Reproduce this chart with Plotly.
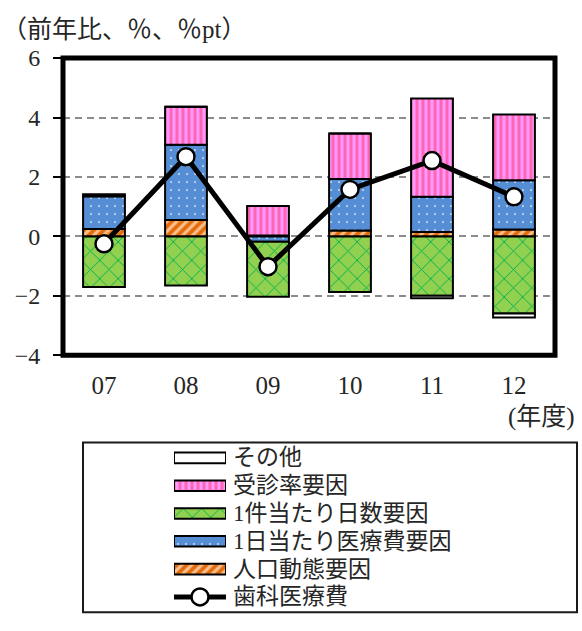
import plotly.graph_objects as go

# 年度
years = ["07", "08", "09", "10", "11", "12"]

# 寄与度（%pt）
pop_factor = [0.25, 0.55, 0.03, 0.20, 0.15, 0.23]        # 人口動態要因
cost_per_day = [1.10, 2.53, -0.18, 1.73, 1.18, 1.66]    # 1日当たり医療費要因
days_per_case = [-1.70, -1.65, -1.85, -1.87, -2.00, -2.59]  # 1件当たり日数要因
visit_rate = [0.00, 1.28, 0.99, 1.53, 3.31, 2.21]       # 受診率要因
other = [0.07, 0.00, 0.00, 0.00, -0.08, -0.14]          # その他

# 歯科医療費（前年比、%）
dental_total = [-0.25, 2.68, -1.02, 1.58, 2.55, 1.33]

legend_labels = ["その他", "受診率要因", "1件当たり日数要因",
                 "1日当たり医療費要因", "人口動態要因", "歯科医療費"]

W, H = 582, 631


def px(x):
    return x / W


def py(y):
    return 1 - y / H


SERIF = "Liberation Serif, Noto Sans CJK JP"
CJK = "Liberation Serif, Noto Sans CJK JP"
TXT = "#262626"

styles = {
    "pop": dict(bg="#E46C0A", fg="#FAC090", shape="/", size=7, solidity=0.45),
    "cost": dict(bg="#558ED5", fg="#C6D9F1", shape=".", size=8, solidity=0.06),
    "days": dict(bg="#92D050", fg="#00B050", shape="x", size=13, solidity=0.14),
    "visit": dict(bg="#FF66B2", fg="#FF99FF", shape="|", size=6, solidity=0.5),
    "other": dict(bg="#FFFFFF", fg="#FFFFFF", shape="", size=8, solidity=0.3),
}


def marker_for(key):
    s = styles[key]
    m = dict(color=s["bg"], line=dict(color="black", width=2))
    if s["shape"]:
        m["pattern"] = dict(shape=s["shape"], bgcolor=s["bg"], fgcolor=s["fg"],
                            size=s["size"], solidity=s["solidity"],
                            fillmode="replace")
    return m


fig = go.Figure()

series = [("pop", pop_factor), ("cost", cost_per_day), ("days", days_per_case),
          ("visit", visit_rate), ("other", other)]
for key, vals in series:
    fig.add_trace(go.Bar(x=years, y=vals, marker=marker_for(key),
                         showlegend=False, xaxis="x", yaxis="y"))

fig.add_trace(go.Scatter(
    x=years, y=dental_total, mode="lines+markers",
    line=dict(color="black", width=5),
    marker=dict(symbol="circle", size=17, color="white",
                line=dict(color="black", width=2.5)),
    showlegend=False, xaxis="x", yaxis="y"))

# 凡例（別軸に描画）
legend_rows = [("other", 0), ("visit", 1), ("days", 2), ("cost", 3), ("pop", 4)]
for key, row in legend_rows:
    fig.add_trace(go.Bar(x=[1], y=[row], base=[0], orientation="h", width=[0.38],
                         marker=marker_for(key), showlegend=False,
                         xaxis="x2", yaxis="y2", hoverinfo="skip"))
fig.add_trace(go.Scatter(x=[0, 1], y=[5, 5], mode="lines",
                         line=dict(color="black", width=5), showlegend=False,
                         xaxis="x2", yaxis="y2", hoverinfo="skip"))
fig.add_trace(go.Scatter(x=[0.5], y=[5], mode="markers",
                         marker=dict(symbol="circle", size=17, color="white",
                                     line=dict(color="black", width=2.5)),
                         showlegend=False, xaxis="x2", yaxis="y2",
                         hoverinfo="skip"))

x_dom = [px(63), px(555)]
y_dom = [py(357), py(47)]
zero_pos = y_dom[0] + (0 - (-4)) / 10 * (y_dom[1] - y_dom[0])

annotations = [
    dict(text="（前年比、％、％pt）", x=px(0), y=py(17), xref="paper", yref="paper",
         xanchor="left", yanchor="middle", showarrow=False,
         font=dict(family=CJK, size=25, color=TXT)),
    dict(text="(年度)", x=px(541), y=py(421), xref="paper", yref="paper",
         xanchor="center", yanchor="middle", showarrow=False,
         font=dict(family=CJK, size=25, color=TXT)),
]
row_y = [464 + 29 * i for i in range(6)]
for lab, ry in zip(legend_labels, row_y):
    annotations.append(dict(text=lab, x=px(231), y=py(ry), xref="paper", yref="paper",
                            xanchor="left", yanchor="middle", showarrow=False,
                            font=dict(family=CJK, size=23, color=TXT)))

shapes = [
    # プロット枠
    dict(type="rect", xref="x domain", yref="y domain", x0=0, x1=1, y0=0, y1=1,
         line=dict(color="black", width=5), layer="above"),
    # 凡例枠
    dict(type="rect", xref="paper", yref="paper", x0=px(83), x1=px(577),
         y0=py(625), y1=py(448), line=dict(color="#1a1a1a", width=2)),
]

fig.update_layout(
    width=W, height=H,
    margin=dict(l=0, r=0, t=0, b=0),
    paper_bgcolor="white", plot_bgcolor="white",
    barmode="relative", bargap=0.49,
    showlegend=False,
    xaxis=dict(domain=x_dom, type="category", categoryorder="array",
               categoryarray=years, range=[-0.5, 5.5], showgrid=False,
               showline=False, zeroline=False, ticks="",
               tickfont=dict(family=SERIF, size=25, color=TXT),
               ticklabelstandoff=13, fixedrange=True),
    yaxis=dict(domain=y_dom, range=[-4, 6], tick0=0, dtick=2,
               showgrid=True, gridcolor="#8C8C8C", gridwidth=2,
               griddash="7px,5px", zeroline=False, showline=False,
               ticks="outside", ticklen=9, tickwidth=2, tickcolor="black",
               tickfont=dict(family=SERIF, size=24, color=TXT),
               ticklabelstandoff=8, fixedrange=True),
    xaxis3=dict(overlaying="x", anchor="free", position=zero_pos,
                range=[-0.5, 5.5], tickvals=[0.5, 1.5, 2.5, 3.5, 4.5],
                showticklabels=False, ticks="outside", ticklen=7, tickwidth=2,
                tickcolor="black", showline=True, linecolor="black",
                linewidth=2, showgrid=False, zeroline=False, side="bottom"),
    xaxis2=dict(domain=[px(174), px(226)], range=[0, 1], anchor="y2",
                visible=False, fixedrange=True),
    yaxis2=dict(domain=[py(623.5), py(449.5)], range=[5.5, -0.5], anchor="x2",
                visible=False, fixedrange=True),
    annotations=annotations,
    shapes=shapes,
)

fig.write_html("out.html")
